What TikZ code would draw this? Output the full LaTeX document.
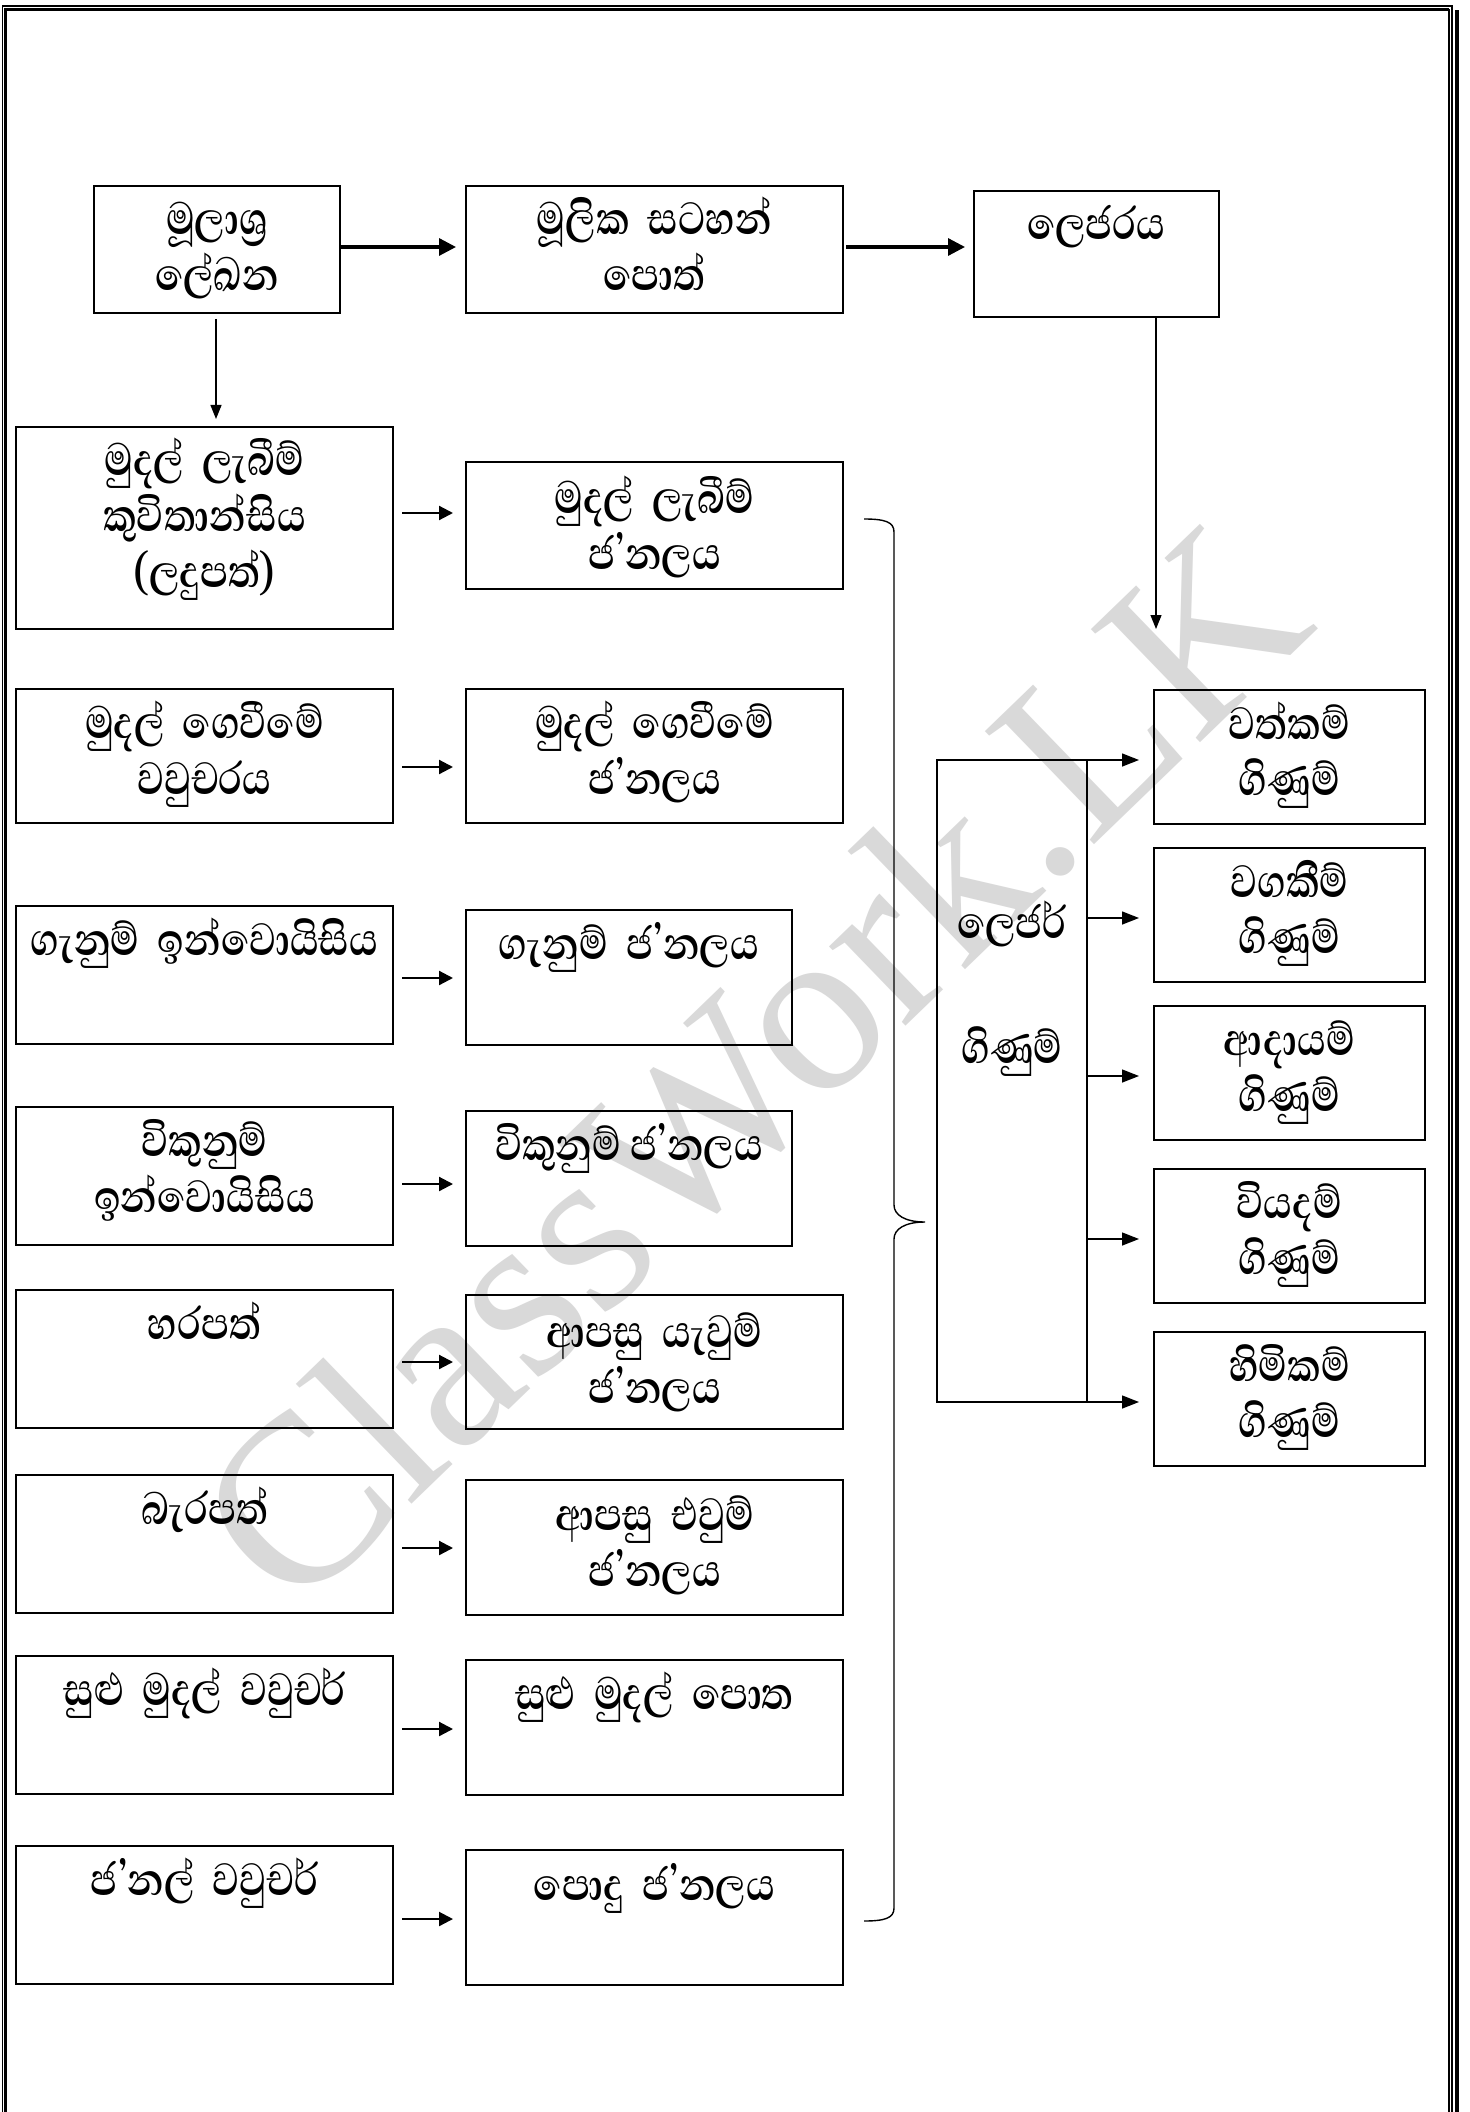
\documentclass[tikz,border=0pt]{standalone}
\usepackage{fontspec}
\usetikzlibrary{arrows.meta}
\newfontfamily\sinhfont[Script=Sinhala, FakeStretch=0.82]{Abhaya Libre}
\newfontfamily\wmfont{Liberation Serif}
\tikzset{
  box/.style={draw, line width=0.75pt, inner sep=0pt, outer sep=0pt},
  txt/.style={anchor=base, inner sep=0pt, font=\sinhfont\bfseries\fontsize{29}{28}\selectfont},
  tarr/.style={line width=1.6pt, -{Triangle[length=8.5pt,width=8.5pt]}},
  marr/.style={line width=1.1pt, -{Triangle[length=7pt,width=7pt]}},
  thinarr/.style={line width=0.6pt, -{Triangle[length=7pt,width=5.5pt]}},
  larr/.style={line width=0.7pt, -{Triangle[length=8.5pt,width=6.5pt]}}
}
\newcommand\bx[5]{\node[box, minimum width={(#4-#2)*0.5pt}, minimum height={(#5-#3)*0.5pt}] (#1) at ({(#2+#4)/2},{(#3+#5)/2}) {};}
\newcommand\tx[4]{\node[txt] (#1) at (#2,#3) {\parbox[t]{260pt}{\centering\lineskiplimit=-100pt #4}};}
\begin{document}
\begin{tikzpicture}[x=0.5pt,y=-0.5pt]
\useasboundingbox (0,0) rectangle (1470,2112);
\fill[white] (0,0) rectangle (1470,2112);
% watermark
\node[rotate=44, text=black!15, font=\wmfont\fontsize{120}{120}\selectfont, inner sep=0pt] (wm) at (750,1064) {ClassWork.LK};
% page border
\draw[line width=0.7pt] (2.5,2112) -- (2.5,6) -- (1452,6) -- (1452,2112);
\draw[line width=1.4pt] (5.8,2112) -- (5.8,9.5) -- (1449,9.5);
\draw[line width=0.6pt] (1449,9.5) -- (1449,2112);
\fill[black] (1454.5,10) rectangle (1459,2112);

% boxes
\bx{A}{94}{186}{340}{313}
\bx{B}{466}{186}{843}{313}
\bx{C}{974}{191}{1219}{317}
\bx{L1}{16}{427}{393}{629}
\bx{L2}{16}{689}{393}{823}
\bx{L3}{16}{906}{393}{1044}
\bx{L4}{16}{1107}{393}{1245}
\bx{L5}{16}{1290}{393}{1428}
\bx{L6}{16}{1475}{393}{1613}
\bx{L7}{16}{1656}{393}{1794}
\bx{L8}{16}{1846}{393}{1984}
\bx{M1}{466}{462}{843}{589}
\bx{M2}{466}{689}{843}{823}
\bx{M3}{466}{910}{792}{1045}
\bx{M4}{466}{1111}{792}{1246}
\bx{M5}{466}{1295}{843}{1429}
\bx{M6}{466}{1480}{843}{1615}
\bx{M7}{466}{1660}{843}{1795}
\bx{M8}{466}{1850}{843}{1985}
\node[draw, line width=0.6pt, inner sep=0pt, outer sep=0pt, minimum width=75pt, minimum height=321pt] (G) at (1012,1081) {};
\bx{R1}{1154}{690}{1425}{824}
\bx{R2}{1154}{848}{1425}{982}
\bx{R3}{1154}{1006}{1425}{1140}
\bx{R4}{1154}{1169}{1425}{1303}
\bx{R5}{1154}{1332}{1425}{1466}

% texts
\tx{tA}{217}{235}{මූලාශ්‍ර\\ ලේඛන}
\tx{tB}{654.5}{235}{මූලික\ \ සටහන්\\ පොත්}
\tx{tC}{1096.5}{240}{ලෙජරය}
\tx{tL1}{204.5}{476}{මුදල්\ \ ලැබීම්\\ කුවිතාන්සිය\\ (ලදුපත්)}
\tx{tL2}{204.5}{738}{මුදල්\ \ ගෙවීමේ\\ වවුචරය}
\tx{tL3}{204.5}{955}{ගැනුම්\ \ ඉන්වොයිසිය}
\tx{tL4}{204.5}{1156}{විකුනුම්\\ ඉන්වොයිසිය}
\tx{tL5}{204.5}{1339}{හරපත්}
\tx{tL6}{204.5}{1524}{බැරපත්}
\tx{tL7}{204.5}{1705}{සුළු\ \ මුදල්\ \ වවුචර්}
\tx{tL8}{204.5}{1895}{ජ’නල්\ \ වවුචර්}
\tx{tM1}{654.5}{514}{මුදල්\ \ ලැබීම්\\ ජ’නලය}
\tx{tM2}{654.5}{738}{මුදල්\ \ ගෙවීමේ\\ ජ’නලය}
\tx{tM3}{629}{959}{ගැනුම්\ \ ජ’නලය}
\tx{tM4}{629}{1160}{විකුනුම්\ ජ’නලය}
\tx{tM5}{654.5}{1347}{ආපසු\ \ යැවුම්\\ ජ’නලය}
\tx{tM6}{654.5}{1530}{ආපසු\ \ එවුම්\\ ජ’නලය}
\tx{tM7}{654.5}{1709}{සුළු\ \ මුදල්\ \ පොත}
\tx{tM8}{654.5}{1900}{පොදු\ \ ජ’නලය}
\tx{tG}{1012}{938}{ලෙජර්\\[34.5pt] ගිණුම්}
\tx{tR1}{1289.5}{739}{වත්කම්\\ ගිණුම්}
\tx{tR2}{1289.5}{897}{වගකීම්\\ ගිණුම්}
\tx{tR3}{1289.5}{1055}{ආදායම්\\ ගිණුම්}
\tx{tR4}{1289.5}{1218}{වියදම්\\ ගිණුම්}
\tx{tR5}{1289.5}{1381}{හිමිකම්\\ ගිණුම්}

% top arrows
\draw[tarr, shorten >=5pt] (A.east |- 0,247) -- (B.west |- 0,247);
\draw[tarr, shorten <=1.5pt, shorten >=4.5pt] (B.east |- 0,247) -- (C.west |- 0,247);
\draw[thinarr, shorten <=3pt, shorten >=4pt] (A.south -| 216,0) -- (L1.north -| 216,0);
\coordinate (cd) at (1156,629);
\draw[thinarr] (C.south -| cd) -- (cd);

% left to middle arrows
\draw[marr, shorten <=4.5pt, shorten >=6.5pt] (L1.east |- 0,513) -- (M1.west |- 0,513);
\draw[marr, shorten <=4.5pt, shorten >=6.5pt] (L2.east |- 0,767) -- (M2.west |- 0,767);
\draw[marr, shorten <=4.5pt, shorten >=6.5pt] (L3.east |- 0,978) -- (M3.west |- 0,978);
\draw[marr, shorten <=4.5pt, shorten >=6.5pt] (L4.east |- 0,1184) -- (M4.west |- 0,1184);
\draw[marr, shorten <=4.5pt, shorten >=6.5pt] (L5.east |- 0,1362) -- (M5.west |- 0,1362);
\draw[marr, shorten <=4.5pt, shorten >=6.5pt] (L6.east |- 0,1548) -- (M6.west |- 0,1548);
\draw[marr, shorten <=4.5pt, shorten >=6.5pt] (L7.east |- 0,1729) -- (M7.west |- 0,1729);
\draw[marr, shorten <=4.5pt, shorten >=6.5pt] (L8.east |- 0,1919) -- (M8.west |- 0,1919);

% brace
\draw[line width=0.7pt] (864,519) .. controls (885,519) and (894,522) .. (894,532) -- (894,1205) .. controls (894,1215) and (905,1222) .. (925,1222) .. controls (905,1222) and (894,1229) .. (894,1239) -- (894,1908) .. controls (894,1918) and (885,1921) .. (864,1921);

% ledger arrows
\draw[larr, shorten >=7.5pt] (G.east |- 0,760) -- (R1.west |- 0,760);
\draw[larr, shorten >=7.5pt] (G.east |- 0,918) -- (R2.west |- 0,918);
\draw[larr, shorten >=7.5pt] (G.east |- 0,1076) -- (R3.west |- 0,1076);
\draw[larr, shorten >=7.5pt] (G.east |- 0,1239) -- (R4.west |- 0,1239);
\draw[larr, shorten >=7.5pt] (G.east |- 0,1402) -- (R5.west |- 0,1402);
\end{tikzpicture}
\end{document}
